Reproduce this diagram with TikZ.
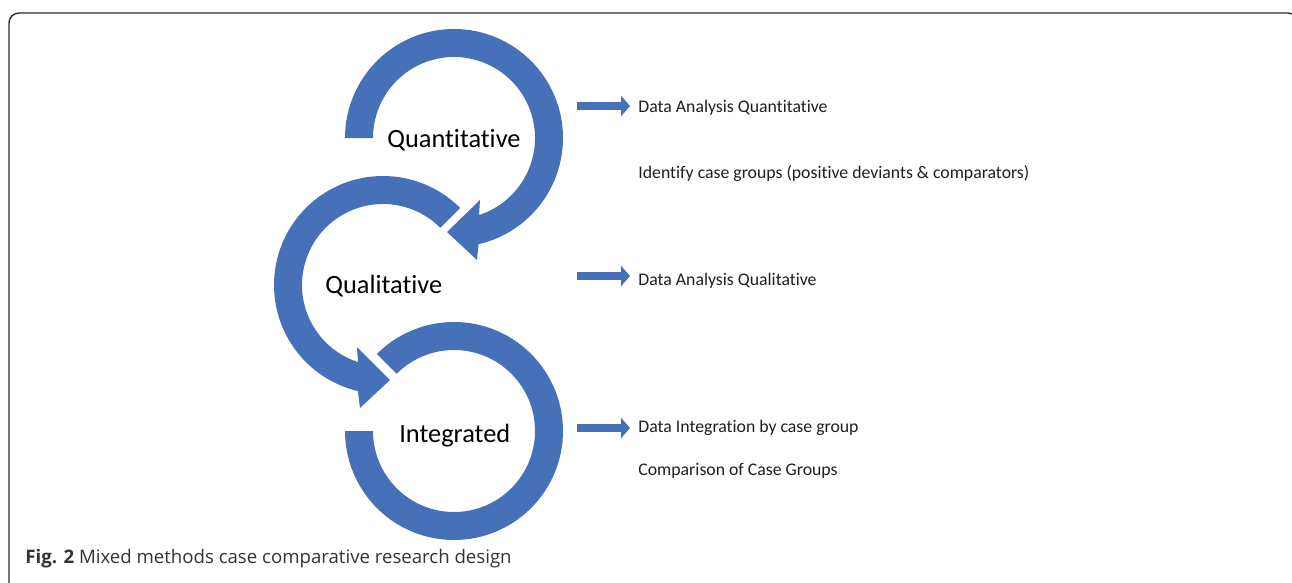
\documentclass[tikz,border=0pt]{standalone}
\usepackage{fontspec}
\setmainfont{Carlito}[Ligatures=NoCommon]
\newfontfamily\capfont{Open Sans}
\usetikzlibrary{arrows.meta}
\definecolor{cycleblue}{RGB}{70,113,185}
\definecolor{framegray}{RGB}{45,45,45}

\begin{document}
\begin{tikzpicture}[x=0.02cm,y=-0.02cm,
	band/.style={fill=cycleblue,draw=none},
	stage/.style={inner sep=0pt,anchor=base west,font=\fontsize{15}{18}\selectfont},
	note/.style={inner xsep=4.6pt,inner ysep=0pt,anchor=base west,font=\fontsize{10.1}{12}\selectfont,text=black!88},
	pointer/.style={draw=cycleblue,line width=5.1pt,-{Triangle[length=5.1pt,width=11.4pt]}}]
\useasboundingbox (0,0) rectangle (1292,582);
\clip (0,0) rectangle (1292,582);
\draw[framegray,line width=0.8pt,rounded corners=5.7pt] (9,13) rectangle (1298,640);

\path (454,138) coordinate (quant)
		(383,285) coordinate (qual)
		(454,431) coordinate (integ)
		(577,106) coordinate (fromquant)
		(577,276) coordinate (fromqual)
		(577,428) coordinate (frominteg);

\fill[band] ([shift={(180:109)}]quant) arc[start angle=180,end angle=437,radius=109]
		-- (477,260) -- (447,232) -- (480,200)
		-- ([shift={(432:81)}]quant) arc[start angle=432,end angle=180,radius=81] -- cycle;
\fill[band] ([shift={(-45:109)}]qual) arc[start angle=-45,end angle=-256.7,radius=109]
		-- (360,408) -- (390,380) -- (357,347)
		-- ([shift={(-252:81)}]qual) arc[start angle=-252,end angle=-45,radius=81] -- cycle;
\fill[band] ([shift={(-135:109)}]integ) arc[start angle=-135,end angle=180,radius=109]
		-- ([shift={(180:81)}]integ) arc[start angle=180,end angle=-135,radius=81] -- cycle;

\path (387,147) node[stage] (quantlbl) {Quantitative}
		(325,293) node[stage] (quallbl) {Qualitative}
		(399,442) node[stage] (integlbl) {Integrated}
		(630,112) node[note] (daquant) {Data Analysis Quantitative}
		(630,178) node[note] (groups) {Identify case groups (positive deviants \& comparators)}
		(630,285) node[note] (daqual) {Data Analysis Qualitative}
		(630,432) node[note] (dainteg) {Data Integration by case group}
		(630,475) node[note] (compare) {Comparison of Case Groups}
		(25,563) node[anchor=base west,inner sep=0pt,font=\capfont\fontsize{10.6}{13}\selectfont,text=black!80] (caption)
			{\textbf{Fig. 2} Mixed methods case comparative research design};

\draw[pointer] (fromquant) -- (fromquant -| daquant.west);
\draw[pointer] (fromqual) -- (fromqual -| daqual.west);
\draw[pointer] (frominteg) -- (frominteg -| dainteg.west);

\end{tikzpicture}
\end{document}
